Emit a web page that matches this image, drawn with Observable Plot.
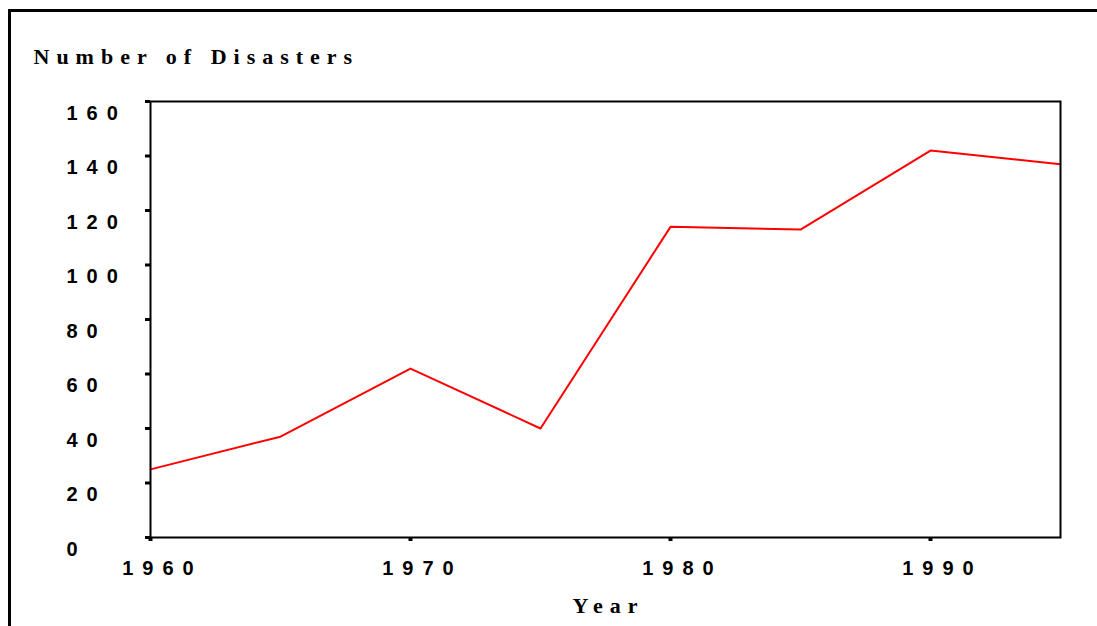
<!DOCTYPE html>
<html>
<head>
<meta charset="utf-8">
<script src="https://cdn.jsdelivr.net/npm/d3@7"></script>
<script src="https://cdn.jsdelivr.net/npm/@observablehq/plot@0.6"></script>
<style>
  html, body { margin: 0; padding: 0; background: #fff; }
  #wrap { position: relative; width: 1097px; height: 626px; overflow: hidden; }
  #border { position: absolute; left: 8px; top: 9px; width: 1100px; height: 700px;
            border-top: 3px solid #000; border-left: 3px solid #000; box-sizing: border-box; }
  #chart { position: absolute; left: 0; top: 0; }
  .axlab text { letter-spacing: 9px; font-weight: bold; font-size: 20px; font-family: "Liberation Sans", Arial, sans-serif; }
  .ttl text { letter-spacing: 7px; font-weight: bold; font-size: 22px; font-family: "Liberation Serif", "Times New Roman", serif; }
</style>
</head>
<body>
<div id="wrap"><div id="border"></div><div id="chart"></div></div>
<script>
const years = [1960, 1965, 1970, 1975, 1980, 1985, 1990, 1995];
const disasters = [25, 37, 62, 40, 114, 113, 142, 137];
const yTicks = [0, 20, 40, 60, 80, 100, 120, 140, 160];
const xTicks = [1960, 1970, 1980, 1990];
const yTitle = "Number of Disasters";
const xTitle = "Year";

const data = years.map((y, i) => ({year: y, count: disasters[i]}));

const svg = Plot.plot({
  width: 1097,
  height: 626,
  marginLeft: 150,
  marginRight: 37,
  marginTop: 101,
  marginBottom: 89,
  style: {background: "transparent", color: "#000"},
  x: {domain: [1960, 1995]},
  y: {domain: [0, 160]},
  marks: [
    Plot.line(data, {x: "year", y: "count", stroke: "#ff0000", strokeWidth: 2}),
    Plot.frame({stroke: "#000", strokeWidth: 2}),
    // tick marks only
    Plot.axisY({ticks: yTicks, tickSize: 5, strokeWidth: 3, label: null, tickFormat: () => ""}),
    Plot.axisX({ticks: xTicks, tickSize: 4, strokeWidth: 4, label: null, tickFormat: () => ""}),
    // tick labels only
    Plot.axisY({ticks: yTicks, tickSize: 0, tickPadding: 84, textAnchor: "start", dy: 12,
      label: null, tickFormat: d => String(d)}),
    Plot.axisX({ticks: xTicks, tickSize: 0, tickPadding: 23, dx: 12,
      label: null, tickFormat: d => String(d)}),
    Plot.text([yTitle], {text: d => d, frameAnchor: "top-left", dx: -117, dy: -53,
      textAnchor: "start", fill: "#000"}),
    Plot.text([xTitle], {text: d => d, frameAnchor: "bottom", dx: 3, dy: 75,
      textAnchor: "middle", fill: "#000"})
  ]
});
document.getElementById("chart").appendChild(svg);
const s = d3.select(svg);
s.selectAll('g[aria-label="y-axis tick label"], g[aria-label="x-axis tick label"]').classed("axlab", true);
s.selectAll('g[aria-label="text"]').classed("ttl", true);
</script>
</body>
</html>
